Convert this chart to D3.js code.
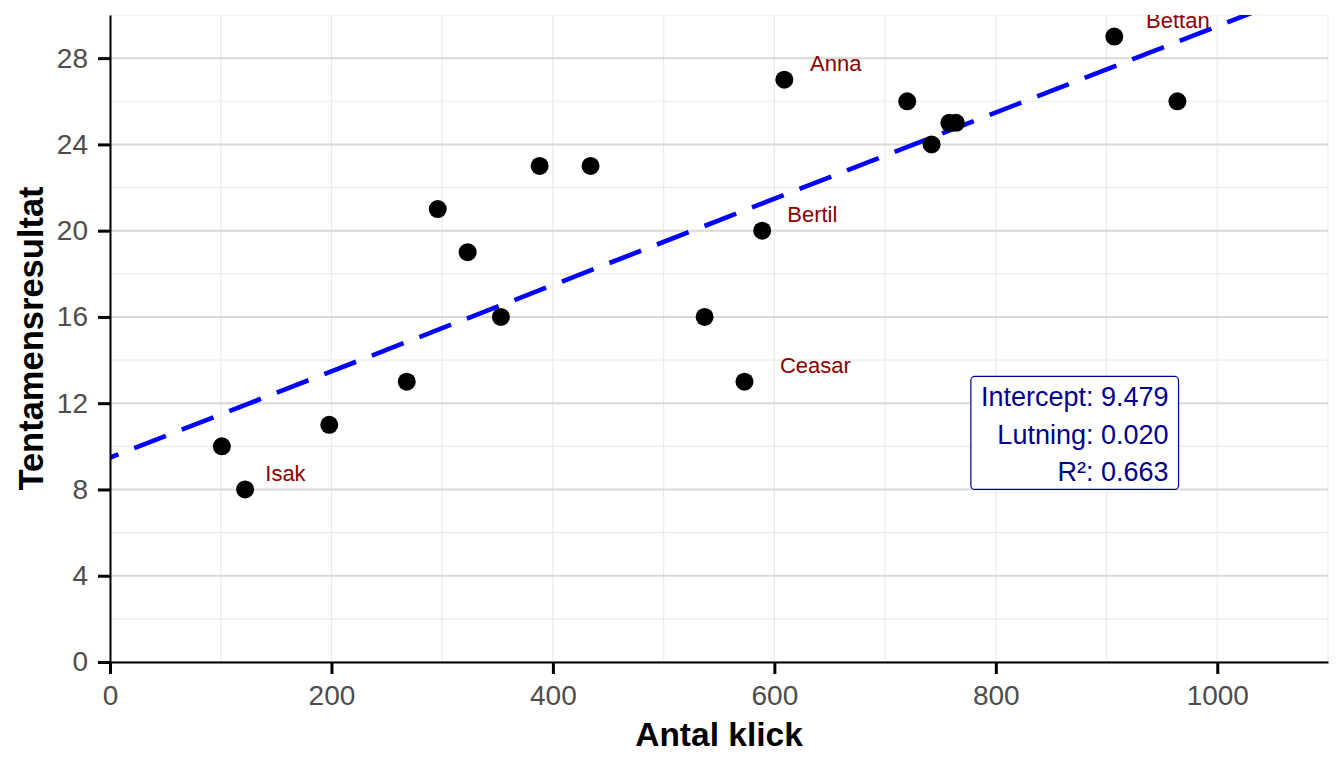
<!DOCTYPE html>
<html>
<head>
<meta charset="utf-8">
<script src="https://cdn.jsdelivr.net/npm/d3@7"></script>
<style>
  body { margin: 0; background: #fff; }
  text { font-family: "Liberation Sans", Arial, sans-serif; }
</style>
</head>
<body>
<div id="chart-area"></div>
<script>
// data
const clicks = [101, 122, 198, 268, 296, 323, 353, 388, 434, 537, 573, 589, 609, 720, 742, 758, 764, 907, 964];
const scores = [10, 8, 11, 13, 21, 19, 16, 23, 23, 16, 13, 20, 27, 26, 24, 25, 25, 29, 26];
const names = ["", "Isak", "", "", "", "", "", "", "", "", "Ceasar", "Bertil", "Anna", "", "", "", "", "Bettan", ""];

const xTicks = [0, 200, 400, 600, 800, 1000];
const xMinor = [100, 300, 500, 700, 900, 1100];
const yTicks = [0, 4, 8, 12, 16, 20, 24, 28];
const yMinor = [2, 6, 10, 14, 18, 22, 26, 30];

const fitLabels = ["Intercept", "Lutning", "R²"];
const fitValues = [9.479, 0.020, 0.663];

const canvasWidth = 1344;
const canvasHeight = 768;
const margin = {left: 110, top: 15, right: 16, bottom: 106};
const chartWidth = canvasWidth - margin.left - margin.right;
const chartHeight = canvasHeight - margin.top - margin.bottom;

const points = clicks.map((c, i) => ({x: c, y: scores[i], name: names[i]}));

const canvas = d3.select("#chart-area").append("svg")
  .attr("width", canvasWidth).attr("height", canvasHeight);

const chartGroup = canvas.append("g").attr("transform", `translate(${margin.left}, ${margin.top})`);

const xScale = d3.scaleLinear().domain([0, 1100]).range([0, chartWidth]);
const yScale = d3.scaleLinear().domain([0, 30]).range([chartHeight, 0]);

canvas.append("defs").append("clipPath").attr("id", "panel")
  .append("rect").attr("width", chartWidth).attr("height", chartHeight);

// grid: minor lines, light x majors, darker y majors
const grid = chartGroup.append("g");
grid.selectAll(".xminor").data(xMinor.concat(xTicks)).enter().append("line")
  .attr("x1", d => xScale(d)).attr("x2", d => xScale(d))
  .attr("y1", 0).attr("y2", chartHeight)
  .attr("stroke", "#ebebeb").attr("stroke-width", 1.2);
grid.selectAll(".yminor").data(yMinor).enter().append("line")
  .attr("y1", d => yScale(d)).attr("y2", d => yScale(d))
  .attr("x1", 0).attr("x2", chartWidth)
  .attr("stroke", "#ebebeb").attr("stroke-width", 1.2);
grid.selectAll(".ymajor").data(yTicks).enter().append("line")
  .attr("y1", d => yScale(d)).attr("y2", d => yScale(d))
  .attr("x1", 0).attr("x2", chartWidth)
  .attr("stroke", "#d9d9d9").attr("stroke-width", 2);

// regression line
const panel = chartGroup.append("g").attr("clip-path", "url(#panel)");
const [intercept, slope] = fitValues;
panel.append("line")
  .attr("x1", xScale(0)).attr("y1", yScale(intercept))
  .attr("x2", xScale(1100)).attr("y2", yScale(intercept + slope * 1100))
  .attr("stroke", "#0000ff").attr("stroke-width", 4.6)
  .attr("stroke-dasharray", "34 17").attr("stroke-dashoffset", 25);

// points
chartGroup.selectAll("circle").data(points).enter().append("circle")
  .attr("cx", d => xScale(d.x)).attr("cy", d => yScale(d.y))
  .attr("r", 9).attr("fill", "#000");

// name labels (hjust/vjust -0.5 style)
panel.selectAll(".name").data(points.filter(d => d.name)).enter().append("text")
  .attr("class", "name")
  .attr("font-size", "22px").attr("fill", "#8b0000")
  .attr("y", d => yScale(d.y) - 8.5)
  .text(d => d.name)
  .attr("x", function (d) { return xScale(d.x) + this.getComputedTextLength() / 2; });

// axes
const xAxisGroup = chartGroup.append("g").attr("transform", `translate(0, ${chartHeight})`)
  .call(d3.axisBottom(xScale).tickValues(xTicks).tickFormat(d3.format("d"))
    .tickSize(12).tickPadding(11).tickSizeOuter(0));
const yAxisGroup = chartGroup.append("g")
  .call(d3.axisLeft(yScale).tickValues(yTicks).tickFormat(d3.format("d"))
    .tickSize(12).tickPadding(10).tickSizeOuter(0));

[xAxisGroup, yAxisGroup].forEach(g => {
  g.select(".domain").attr("stroke", "#000").attr("stroke-width", 2);
  g.selectAll(".tick line").attr("stroke", "#000").attr("stroke-width", 3);
  g.selectAll(".tick text").attr("fill", "#4d4d4d").attr("font-size", "28px")
    .attr("font-family", "'Liberation Sans', Arial, sans-serif");
});

// axis titles
chartGroup.append("text")
  .attr("font-size", "33.5px").attr("font-weight", "bold").attr("text-anchor", "middle")
  .attr("x", chartWidth / 2).attr("y", 746 - margin.top)
  .text("Antal klick");

chartGroup.append("text")
  .attr("font-size", "34.5px").attr("font-weight", "bold").attr("text-anchor", "middle")
  .attr("transform", `translate(${43 - margin.left}, ${chartHeight / 2}) rotate(-90)`)
  .text("Tentamensresultat");

// fit annotation box
const annRight = xScale(965);
const annBottom = yScale(8);
const lineGap = 37.5;
const annGroup = chartGroup.append("g");
const annBox = annGroup.append("rect");
const annText = annGroup.selectAll("text").data(fitLabels).enter().append("text")
  .attr("font-size", "27px").attr("fill", "#00008b").attr("text-anchor", "end")
  .attr("x", annRight - 10)
  .attr("y", (d, i) => annBottom - 8 - (fitLabels.length - 1 - i) * lineGap)
  .text((d, i) => `${d}: ${fitValues[i].toFixed(3)}`);
const annWidth = d3.max(annText.nodes(), n => n.getComputedTextLength()) + 20;
const annHeight = 30 + (fitLabels.length - 1) * lineGap + 8;
annBox.attr("x", annRight - annWidth).attr("y", annBottom - annHeight)
  .attr("width", annWidth).attr("height", annHeight)
  .attr("rx", 4).attr("fill", "#fff").attr("stroke", "#00008b").attr("stroke-width", 1.2);
</script>
</body>
</html>
